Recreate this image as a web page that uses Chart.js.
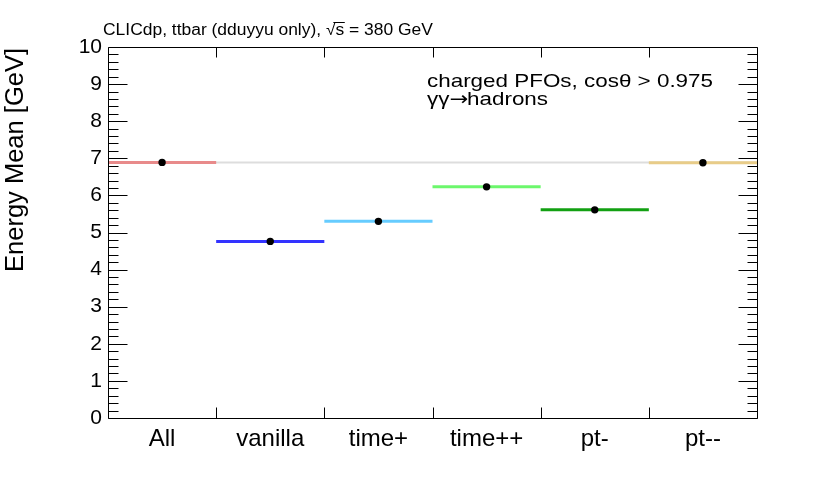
<!DOCTYPE html>
<html>
<head>
<meta charset="utf-8">
<script src="https://cdn.jsdelivr.net/npm/chart.js@4.4.1/dist/chart.umd.min.js"></script>
<style>
  html, body { margin: 0; padding: 0; background: #ffffff; }
  #c { display: block; }
</style>
</head>
<body>
<canvas id="c" width="830" height="482"></canvas>
<script>
// ---- data ----
const categories = ['All', 'vanilla', 'time+', 'time++', 'pt-', 'pt--'];
const energyMean = [6.89, 4.76, 5.30, 6.23, 5.61, 6.88];
const referenceValue = [6.89];
const yTickValues = [0, 1, 2, 3, 4, 5, 6, 7, 8, 9, 10];

// ---- styles ----
const segmentColors = ['#e88a8a', '#3333ff', '#66ccff', '#6cf76c', '#12a012', '#e8cc88'];
const FONT = '"Liberation Sans", Arial, Helvetica, sans-serif';

const datasets = [];
// grey reference line across the whole range
datasets.push({
  type: 'line',
  data: [{ x: 0, y: referenceValue[0] }, { x: categories.length, y: referenceValue[0] }],
  borderColor: '#dddddd',
  borderWidth: 2,
  pointRadius: 0,
  order: 3
});
// horizontal segment per category
categories.forEach((c, i) => {
  datasets.push({
    type: 'line',
    label: c,
    data: [{ x: i, y: energyMean[i] }, { x: i + 1, y: energyMean[i] }],
    borderColor: segmentColors[i],
    borderWidth: 3,
    pointRadius: 0,
    order: 2
  });
});
// black markers at the bin centres
datasets.push({
  type: 'scatter',
  data: categories.map((c, i) => ({ x: i + 0.5, y: energyMean[i] })),
  backgroundColor: '#000000',
  borderColor: '#000000',
  pointRadius: 3.7,
  borderWidth: 0,
  order: 1
});

const framePlugin = {
  id: 'rootFrame',
  afterDatasetsDraw(chart) {
    const ctx = chart.ctx;
    const a = chart.chartArea;
    const xs = chart.scales.x, ys = chart.scales.y;
    ctx.save();
    ctx.strokeStyle = '#000000';
    ctx.lineWidth = 1;
    const L = Math.round(a.left) + 0.5, R = Math.round(a.right) + 0.5;
    const T = Math.round(a.top) + 0.5, B = Math.round(a.bottom) + 0.5;
    ctx.beginPath();
    ctx.rect(L, T, R - L, B - T);
    // y ticks: majors every 1, minors every 0.2
    for (let k = 0; k <= 50; k++) {
      const v = k * 0.2;
      const y = Math.round(ys.getPixelForValue(v)) + 0.5;
      const len = (k % 5 === 0) ? 19 : 10;
      ctx.moveTo(L, y); ctx.lineTo(L + len, y);
      ctx.moveTo(R, y); ctx.lineTo(R - len, y);
    }
    // x ticks at bin edges
    for (let i = 1; i < categories.length; i++) {
      const x = Math.round(xs.getPixelForValue(i)) + 0.5;
      ctx.moveTo(x, B); ctx.lineTo(x, B - 11);
      ctx.moveTo(x, T); ctx.lineTo(x, T + 10);
    }
    ctx.stroke();
    ctx.restore();
  },
  afterDraw(chart) {
    const ctx = chart.ctx;
    ctx.save();
    ctx.fillStyle = '#000000';
    ctx.textBaseline = 'alphabetic';
    ctx.textAlign = 'left';

    // header
    ctx.save();
    ctx.translate(103, 35);
    ctx.scale(1.09, 1);
    ctx.font = '16px ' + FONT;
    const pre = 'CLICdp, ttbar (dduyyu only), \u221A';
    const sChar = 's';
    const post = ' = 380 GeV';
    ctx.fillText(pre, 0, 0);
    const wPre = ctx.measureText(pre).width;
    ctx.fillText(sChar, wPre, 0);
    const wS = ctx.measureText(sChar).width;
    ctx.fillText(post, wPre + wS, 0);
    ctx.lineWidth = 1;
    ctx.strokeStyle = '#000';
    ctx.beginPath();
    ctx.moveTo(wPre - 2, -12.5);
    ctx.lineTo(wPre + wS + 0.5, -12.5);
    ctx.stroke();
    ctx.restore();

    // annotation
    ctx.save();
    ctx.translate(427, 87);
    ctx.scale(1.18, 1);
    ctx.font = '19px ' + FONT;
    ctx.fillText('charged PFOs, cos\u03B8 > 0.975', 0, 0);
    const g = '\u03B3\u03B3';
    ctx.fillText(g, 0, 18);
    let xx = ctx.measureText(g).width;
    ctx.font = '19px "DejaVu Sans", sans-serif';
    ctx.fillText('\u2192', xx, 18);
    xx += ctx.measureText('\u2192').width - 1;
    ctx.font = '19px ' + FONT;
    ctx.fillText('hadrons', xx, 18);
    ctx.restore();

    // y-axis title
    ctx.save();
    ctx.translate(23, 48);
    ctx.rotate(-Math.PI / 2);
    ctx.textAlign = 'right';
    ctx.font = '25.5px ' + FONT;
    ctx.fillText('Energy Mean [GeV]', 0, 0);
    ctx.restore();

    ctx.restore();
  }
};

new Chart(document.getElementById('c'), {
  type: 'scatter',
  data: { datasets },
  options: {
    responsive: false,
    animation: false,
    devicePixelRatio: 1,
    layout: { padding: { top: 47, right: 73, left: 0, bottom: 0 } },
    plugins: { legend: { display: false }, tooltip: { enabled: false }, title: { display: false } },
    scales: {
      x: {
        type: 'linear',
        min: 0,
        max: categories.length,
        grid: { display: false, drawTicks: false },
        border: { display: false },
        afterBuildTicks: (scale) => { scale.ticks = categories.map((c, i) => ({ value: i + 0.5 })); },
        afterFit: (scale) => { scale.height = 64; },
        ticks: {
          autoSkip: false, maxRotation: 0, minRotation: 0, padding: 7,
          color: '#000000',
          font: { family: FONT, size: 24 },
          callback: (v, i) => categories[i]
        }
      },
      y: {
        type: 'linear',
        min: 0,
        max: 10,
        grid: { display: false, drawTicks: false },
        border: { display: false },
        afterBuildTicks: (scale) => { scale.ticks = yTickValues.map(v => ({ value: v })); },
        afterFit: (scale) => { scale.width = 108; },
        ticks: {
          autoSkip: false, padding: 6,
          color: '#000000',
          font: { family: FONT, size: 21 },
          callback: (v) => String(v)
        }
      }
    }
  },
  plugins: [framePlugin]
});
</script>
</body>
</html>
